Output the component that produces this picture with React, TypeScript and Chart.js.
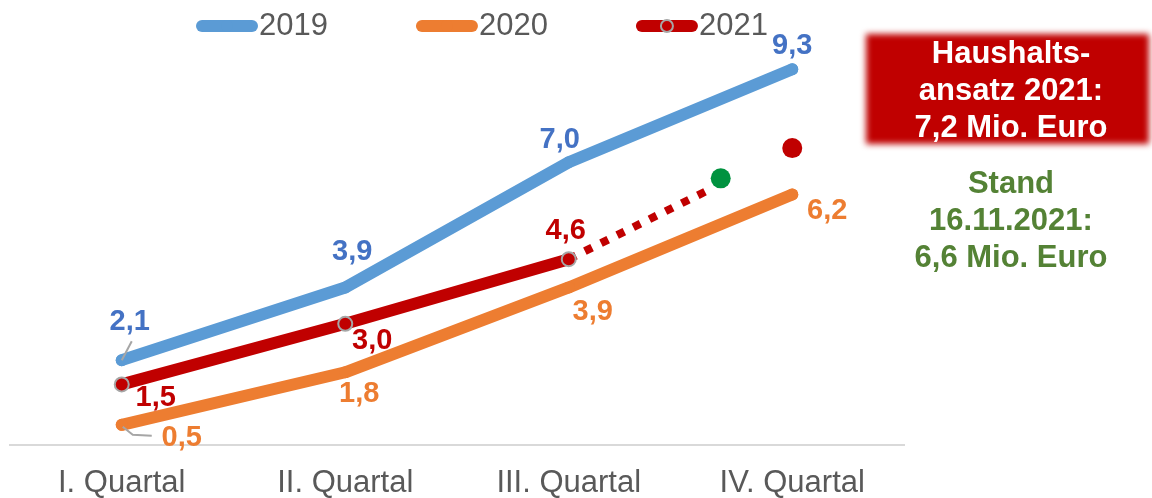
import React, { useEffect, useRef } from "react";
import { Chart, registerables } from "chart.js";

Chart.register(...registerables);

// ---- data ----
const categories = ["I. Quartal", "II. Quartal", "III. Quartal", "IV. Quartal"];
const seriesNames = ["2019", "2020", "2021"];
const values2019 = [2.1, 3.9, 7.0, 9.3];
const values2020 = [0.5, 1.8, 3.9, 6.2];
const values2021 = [1.5, 3.0, 4.6];
const trendX = [2, 2.61];
const trendY = [4.6, 6.27];
const standX = [2.68];
const standY = [6.6];
const budgetX = [3];
const budgetY = [7.35];

const FONT = "'Liberation Sans', Arial, sans-serif";
const fmt = (v: number) => v.toFixed(1).replace(".", ",");

const valueLabels = {
  id: "valueLabels",
  afterDatasetsDraw(chart: any) {
    const ctx = chart.ctx;
    chart.data.datasets.forEach((ds: any, di: number) => {
      if (!ds.labelOffsets) return;
      const meta = chart.getDatasetMeta(di);
      meta.data.forEach((pt: any, i: number) => {
        const off = ds.labelOffsets[i];
        if (!off) return;
        const leader = ds.leaders && ds.leaders[i];
        ctx.save();
        if (leader) {
          ctx.strokeStyle = "#A6A6A6";
          ctx.lineWidth = 2;
          ctx.beginPath();
          leader.forEach((p: number[], k: number) => {
            if (k === 0) ctx.moveTo(pt.x + p[0], pt.y + p[1]);
            else ctx.lineTo(pt.x + p[0], pt.y + p[1]);
          });
          ctx.stroke();
        }
        ctx.fillStyle = ds.labelColor;
        ctx.font = `bold 29px ${FONT}`;
        ctx.textAlign = "center";
        ctx.textBaseline = "middle";
        ctx.fillText(fmt(ds.data[i]), pt.x + off[0], pt.y + off[1]);
        ctx.restore();
      });
    });
  },
};

const customLegend = {
  id: "customLegend",
  afterDraw(chart: any) {
    const ctx = chart.ctx;
    const y = 26;
    let x = 196;
    const swatch = 62;
    ctx.save();
    ctx.font = `31px ${FONT}`;
    ctx.textBaseline = "middle";
    ctx.textAlign = "left";
    seriesNames.forEach((name, i) => {
      const ds: any = chart.data.datasets[i];
      ctx.strokeStyle = ds.borderColor;
      ctx.lineWidth = 12;
      ctx.lineCap = "round";
      ctx.beginPath();
      ctx.moveTo(x + 6, y);
      ctx.lineTo(x + swatch - 6, y);
      ctx.stroke();
      ctx.beginPath();
      ctx.arc(x + swatch / 2, y, 6, 0, Math.PI * 2);
      ctx.fillStyle = ds.pointBackgroundColor;
      ctx.fill();
      if (ds.pointBorderWidth) {
        ctx.lineWidth = ds.pointBorderWidth;
        ctx.strokeStyle = ds.pointBorderColor;
        ctx.stroke();
      }
      ctx.fillStyle = "#595959";
      ctx.fillText(name, x + swatch + 1, y);
      const w = ctx.measureText(name).width;
      x += swatch + 1 + w + 88;
    });
    ctx.restore();
  },
};

export default function App() {
  const ref = useRef<HTMLCanvasElement | null>(null);

  useEffect(() => {
    if (!ref.current) return;
    Chart.defaults.font.family = FONT;
    const chart = new Chart(ref.current, {
      type: "line",
      data: {
        labels: categories,
        datasets: [
          {
            label: seriesNames[0],
            data: values2019,
            xAxisID: "x",
            borderColor: "#5B9BD5",
            borderWidth: 12,
            borderCapStyle: "round",
            borderJoinStyle: "round",
            pointRadius: 6,
            pointBackgroundColor: "#5B9BD5",
            pointBorderWidth: 0,
            clip: false,
            labelColor: "#4472C4",
            labelOffsets: [[8, -38], [7, -35], [-9, -22], [0, -23]],
            leaders: { 0: [[0, 0], [10, -19]] },
          } as any,
          {
            label: seriesNames[1],
            data: values2020,
            xAxisID: "x",
            borderColor: "#ED7D31",
            borderWidth: 12,
            borderCapStyle: "round",
            borderJoinStyle: "round",
            pointRadius: 6,
            pointBackgroundColor: "#ED7D31",
            pointBorderWidth: 0,
            clip: false,
            labelColor: "#ED7D31",
            labelOffsets: [[60, 13], [14, 22], [24, 25], [35, 16]],
            leaders: { 0: [[1, 2], [11, 10], [30, 11]] },
          } as any,
          {
            label: seriesNames[2],
            data: values2021,
            xAxisID: "x",
            borderColor: "#C00000",
            borderWidth: 12,
            borderCapStyle: "round",
            borderJoinStyle: "round",
            pointRadius: 7,
            pointBackgroundColor: "#C00000",
            pointBorderColor: "#A6A6A6",
            pointBorderWidth: 2,
            clip: false,
            labelColor: "#C00000",
            labelOffsets: [[34, 14], [27, 17], [-3, -28]],
          } as any,
          {
            label: "Trend 2021",
            data: trendX.map((x, i) => ({ x, y: trendY[i] })),
            xAxisID: "x2",
            borderColor: "#C00000",
            borderWidth: 8,
            borderDash: [8, 10],
            borderCapStyle: "butt",
            pointRadius: 0,
            clip: false,
          } as any,
          {
            label: "Stand 16.11.2021",
            data: standX.map((x, i) => ({ x, y: standY[i] })),
            xAxisID: "x2",
            showLine: false,
            pointRadius: 10,
            pointBackgroundColor: "#00923F",
            pointBorderWidth: 0,
            borderColor: "#00923F",
            clip: false,
          } as any,
          {
            label: "Haushaltsansatz 2021",
            data: budgetX.map((x, i) => ({ x, y: budgetY[i] })),
            xAxisID: "x2",
            showLine: false,
            pointRadius: 10,
            pointBackgroundColor: "#C00000",
            pointBorderWidth: 0,
            borderColor: "#C00000",
            clip: false,
          } as any,
        ],
      },
      options: {
        animation: false,
        responsive: false,
        layout: { padding: { top: 41, left: 10, right: 248, bottom: 0 } },
        plugins: {
          legend: { display: false },
          tooltip: { enabled: false },
        },
        scales: {
          x: {
            type: "category",
            offset: true,
            grid: { display: false, drawTicks: false },
            border: { display: true, color: "#D9D9D9", width: 2 },
            ticks: {
              color: "#595959",
              font: { size: 31, lineHeight: 1 },
              padding: 23,
              maxRotation: 0,
            },
            afterFit: (scale: any) => {
              scale.height = 53;
            },
          },
          x2: {
            type: "linear",
            display: false,
            min: -0.5,
            max: 3.5,
          },
          y: {
            display: false,
            min: 0,
            max: 10,
          },
        },
      },
      plugins: [valueLabels, customLegend],
    });
    return () => chart.destroy();
  }, []);

  const boxText: React.CSSProperties = {
    position: "absolute",
    left: 866,
    width: 290,
    textAlign: "center",
    fontFamily: FONT,
    fontWeight: "bold",
    fontSize: 31,
    lineHeight: "37px",
    whiteSpace: "nowrap",
  };

  return (
    <div style={{ position: "absolute", left: 0, top: 0, width: 1152, height: 498, background: "#fff", overflow: "hidden" }}>
      <canvas ref={ref} width={1152} height={498} style={{ display: "block" }} />
      <div
        style={{
          position: "absolute",
          left: 866,
          top: 34,
          width: 283,
          height: 110,
          background: "#C00000",
          filter: "blur(3px)",
        }}
      />
      <div style={{ ...boxText, top: 34, color: "#FFFFFF" }}>
        Haushalts-
        <br />
        ansatz 2021:
        <br />
        7,2 Mio. Euro
      </div>
      <div style={{ ...boxText, top: 164, color: "#548235" }}>
        Stand
        <br />
        16.11.2021:
        <br />
        6,6 Mio. Euro
      </div>
    </div>
  );
}
